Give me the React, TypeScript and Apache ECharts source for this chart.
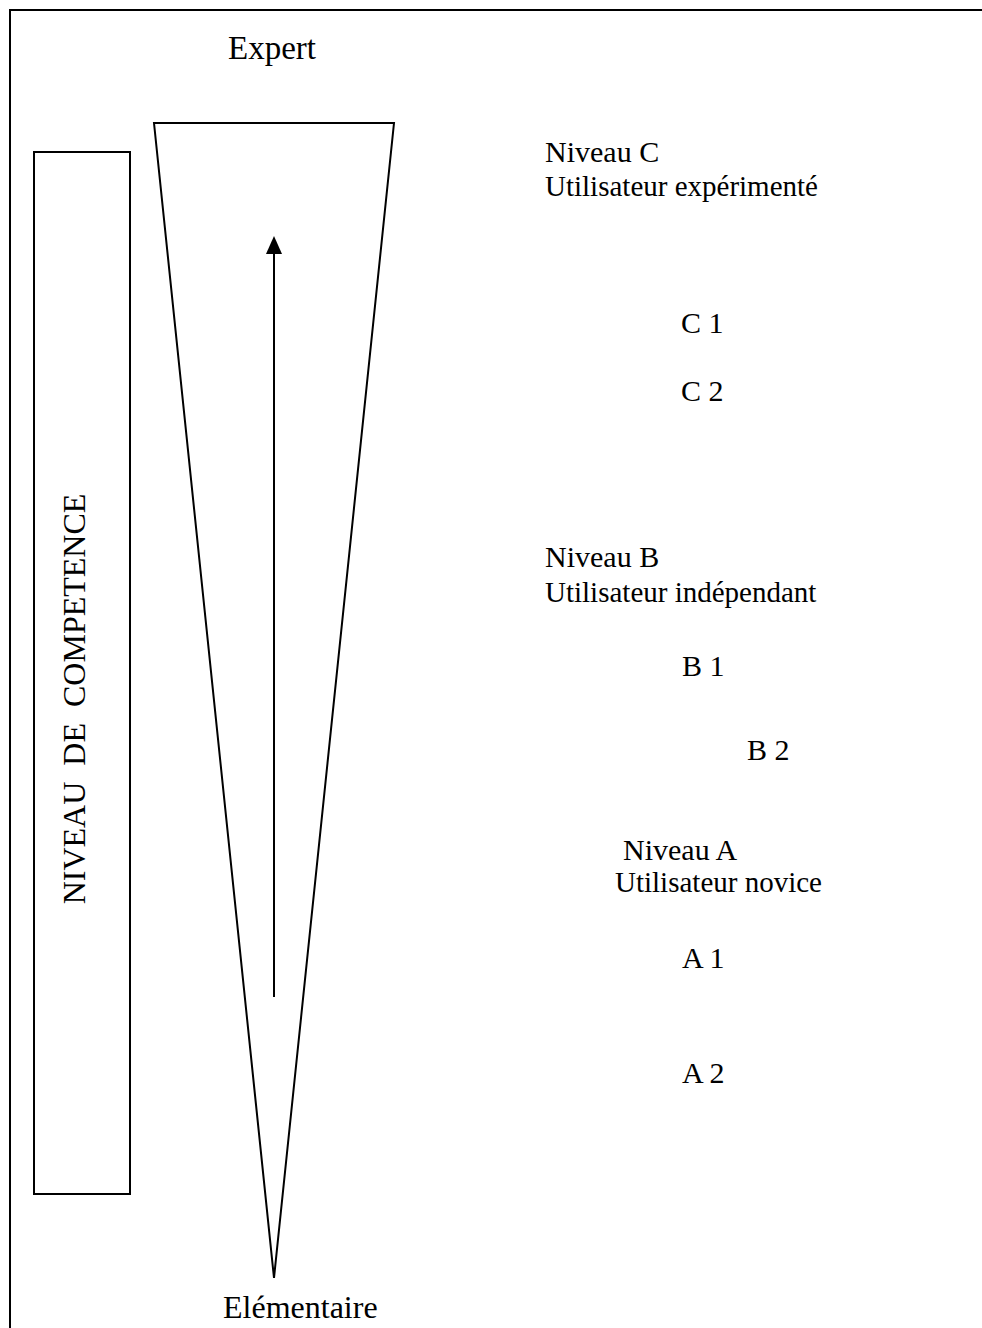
import React, { useEffect, useRef } from "react";
import * as echarts from "echarts";

const topLabel = "Expert";
const bottomLabel = "Elémentaire";
const axisLabel = "NIVEAU  DE  COMPETENCE";
const levelTitles = ["Niveau C", "Niveau B", "Niveau A"];
const levelSubtitles = ["Utilisateur expérimenté", "Utilisateur indépendant", "Utilisateur novice"];
const subLevels = ["C 1", "C 2", "B 1", "B 2", "A 1", "A 2"];

// layout (kept apart from the labels): [left x, baseline y]
const titlePos = [
  [545, 162],
  [545, 567],
  [623, 860],
];
const subtitlePos = [
  [545, 196],
  [545, 602],
  [615, 892],
];
const subLevelPos = [
  [681, 333],
  [681, 401],
  [682, 676],
  [747, 760],
  [682, 968],
  [682, 1083],
];

const FONT = '"Liberation Serif", "Times New Roman", serif';
const ASC = 0.855;

export default function App() {
  const ref = useRef<HTMLDivElement>(null);
  useEffect(() => {
    const chart = echarts.init(ref.current!, null, { renderer: "svg" });
    const stroke = { stroke: "#000", lineWidth: 2, fill: "none" };
    const txt = (text: string, x: number, baseline: number, size: number, extra: any = {}) => ({
      type: "text",
      x,
      y: baseline - ASC * size,
      ...extra,
      style: {
        text,
        x: 0,
        y: 0,
        fill: "#000",
        font: `${size}px ${FONT}`,
        textAlign: extra.textAlign || "left",
        textVerticalAlign: "top",
        textBaseline: "top",
      },
    });
    const elements: any[] = [
      { type: "rect", shape: { x: 10, y: 10, width: 1100, height: 1500 }, style: stroke },
      { type: "rect", shape: { x: 34, y: 152, width: 96, height: 1042 }, style: stroke },
      {
        type: "polygon",
        shape: { points: [[154, 123], [394, 123], [274, 1278]] },
        style: { ...stroke, lineJoin: "miter" },
      },
      { type: "line", shape: { x1: 274, y1: 997, x2: 274, y2: 250 }, style: { stroke: "#000", lineWidth: 2 } },
      {
        type: "polygon",
        shape: { points: [[274, 236], [282, 254], [266, 254]] },
        style: { fill: "#000", stroke: "none" },
      },
      txt(topLabel, 228, 60, 33),
      txt(bottomLabel, 223, 1318, 32),
      {
        type: "text",
        x: 58,
        y: 699,
        rotation: Math.PI / 2,
        style: {
          text: axisLabel,
          x: 0,
          y: 0,
          fill: "#000",
          font: `32px ${FONT}`,
          textAlign: "center",
          textVerticalAlign: "top",
          textBaseline: "top",
        },
      },
    ];
    levelTitles.forEach((t, i) => elements.push(txt(t, titlePos[i][0], titlePos[i][1], 30)));
    levelSubtitles.forEach((t, i) => elements.push(txt(t, subtitlePos[i][0], subtitlePos[i][1], 29)));
    subLevels.forEach((t, i) => elements.push(txt(t, subLevelPos[i][0], subLevelPos[i][1], 30)));

    chart.setOption({
      animation: false,
      backgroundColor: "#fff",
      graphic: { elements },
    });
    return () => chart.dispose();
  }, []);
  return (
    <div
      ref={ref}
      style={{ position: "absolute", left: 0, top: 0, width: 982, height: 1328, background: "#fff" }}
    />
  );
}
